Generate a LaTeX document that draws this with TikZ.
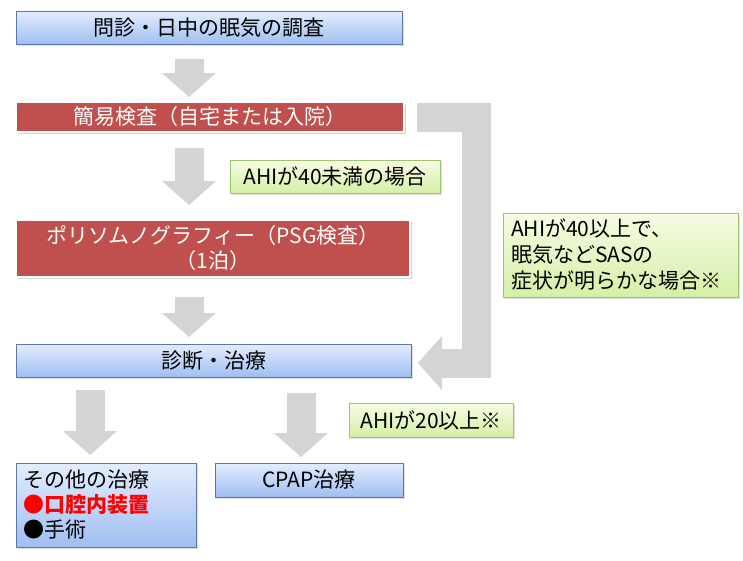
\documentclass[tikz,border=0pt]{standalone}
\usepackage{fontspec}
\setmainfont{Noto Sans CJK JP}
\usetikzlibrary{arrows.meta,shadows}
\definecolor{bluetop}{RGB}{228,237,254}
\definecolor{bluebot}{RGB}{160,190,242}
\definecolor{blueedge}{RGB}{92,120,170}
\definecolor{boxred}{RGB}{192,80,77}
\definecolor{notetop}{RGB}{246,252,228}
\definecolor{notebot}{RGB}{212,240,166}
\definecolor{noteedge}{RGB}{160,196,110}
\definecolor{arrowgray}{RGB}{212,212,212}
\definecolor{markred}{RGB}{255,0,0}
\begin{document}
\begin{tikzpicture}[x=1pt,y=-1pt,
	bluebox/.style={ draw=blueedge, thin, top color=bluetop, bottom color=bluebot, inner sep=0pt, font=\fontsize{21pt}{25pt}\selectfont, drop shadow={shadow xshift=1.5pt, shadow yshift=-1.5pt, opacity=0.25} },
	redbox/.style={ draw=white, line width=1.5pt, fill=boxred, text=white, inner sep=0pt, align=center, font=\fontsize{21pt}{25pt}\selectfont, drop shadow={shadow xshift=2pt, shadow yshift=-2pt, opacity=0.35} },
	notebox/.style={ draw=noteedge, thin, top color=notetop, bottom color=notebot, inner sep=0pt, font=\fontsize{21pt}{26pt}\selectfont, drop shadow={shadow xshift=1.5pt, shadow yshift=-1.5pt, opacity=0.25} },
	blockarrow/.style={ draw=arrowgray, line width=29pt, line join=miter, -{Triangle[width=54pt,length=24pt,line width=0pt]} }
]
\fill[white] (0,0) rectangle (743,560);
\useasboundingbox (0,0) rectangle (743,560);

% flow boxes
\node at (209,27.5) (interview) [bluebox, minimum width=386pt, minimum height=33pt] {問診・日中の眠気の調査};
\node at (210,117) (simple) [redbox, minimum width=388pt, minimum height=30pt] {簡易検査（自宅または入院）};
\node at (213,248.5) (psg) [redbox, minimum width=394pt, minimum height=57pt] {ポリソムノグラフィー（PSG検査）\\（1泊）};
\node at (213.5,360.5) (diag) [bluebox, minimum width=395pt, minimum height=33pt] {診断・治療};
\node at (106,505) (other) [bluebox, minimum width=180pt, minimum height=84pt, align=left, text width=166pt] {その他の治療\\{\color{markred}●\textbf{口腔内装置}}\\●手術};
\node at (309,480) (cpap) [bluebox, minimum width=188pt, minimum height=34pt] {CPAP治療};

% conditions
\node at (335,176.5) (lt40) [notebox, minimum width=210pt, minimum height=33pt] {AHIが40未満の場合};
\node at (620.5,255) (ge40) [notebox, minimum width=235pt, minimum height=84pt, align=left, text width=219pt] {AHIが40以上で、\\眠気などSASの\\症状が明らかな場合※};
\node at (431,420) (ge20) [notebox, minimum width=164pt, minimum height=34pt] {AHIが20以上※};

% block arrows
\coordinate (a1s) at (189,59);  \coordinate (a1e) at (189,97);
\coordinate (a2s) at (189,148); \coordinate (a2e) at (189,205);
\coordinate (a3s) at (189,297); \coordinate (a3e) at (189,337);
\coordinate (a4s) at (90,390);  \coordinate (a4e) at (90,455);
\coordinate (a5s) at (301,393); \coordinate (a5e) at (301,457);
\foreach \s/\e in {a1s/a1e,a2s/a2e,a3s/a3e,a4s/a4e,a5s/a5e} \draw[blockarrow] (\s) -- (\e);

\coordinate (bs) at (417,117);
\coordinate (bc1) at (476,117);
\coordinate (bc2) at (476,363);
\coordinate (be) at (418,363);
\draw[blockarrow] (bs) -- (bc1) -- (bc2) -- (be);

\end{tikzpicture}
\end{document}
